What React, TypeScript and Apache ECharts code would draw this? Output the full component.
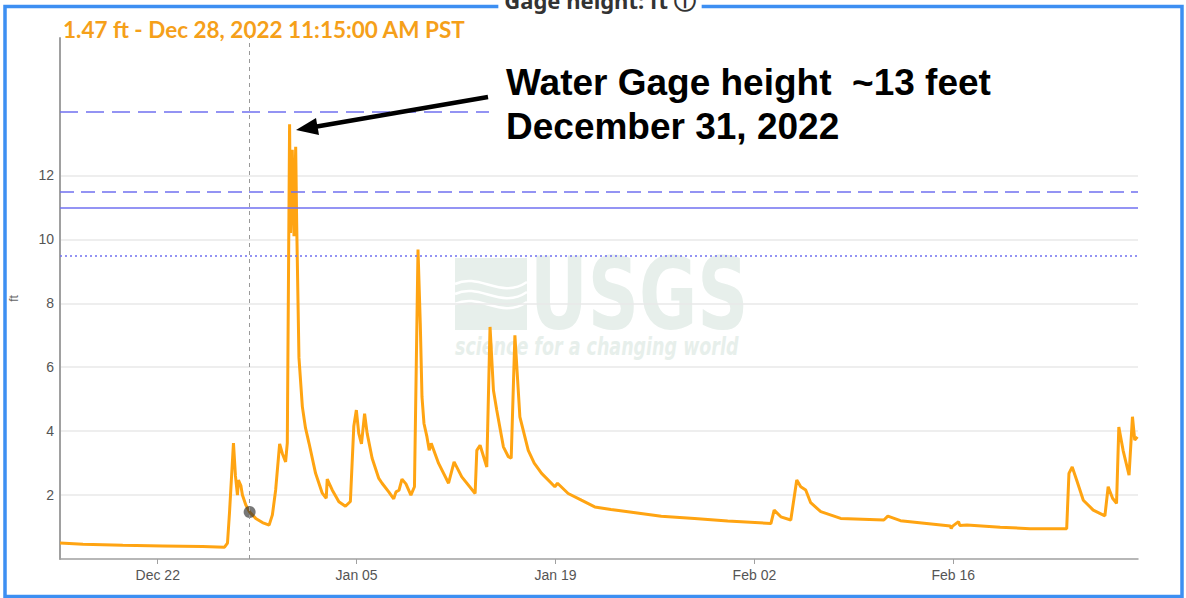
import React, { useEffect, useRef } from 'react';
import * as echarts from 'echarts';

// ---- data ----
const START = Date.UTC(2022, 11, 15); // Dec 15, 2022
const DAY = 86400000;

// days since Dec 15, 2022 00:00
const dayOffsets = [
  0.12, 1.74, 4.54, 7.35, 10.16, 11.70, 11.91, 12.05, 12.33, 12.47, 12.61, 12.68, 12.85, 12.96,
  13.20, 13.47, 13.90, 14.37, 14.84, 15.07, 15.30, 15.58, 15.77, 16.00, 16.12, 16.28, 16.35,
  16.47, 16.59, 16.71, 16.78, 16.94, 17.18, 17.40, 17.65, 18.11, 18.58, 18.86, 18.93, 19.28, 19.75,
  20.21, 20.56, 20.80, 20.98, 21.15, 21.34, 21.56, 21.74, 22.09, 22.56, 22.79, 23.26, 23.61,
  23.77, 23.98, 24.19, 24.47, 24.82, 25.07, 25.32, 25.48, 25.60, 25.74, 25.95, 26.11, 26.25,
  26.77, 27.47, 27.86, 28.40, 29.34, 29.46, 29.69, 30.16, 30.39, 30.63, 30.86, 31.33, 31.68,
  31.88, 32.14, 32.49, 33.08, 33.50, 34.02, 34.95, 35.14, 35.89, 36.82, 37.76, 38.90, 40.10, 42.44, 44.78,
  47.12, 50.16, 50.39, 50.86, 51.56, 51.98, 52.26, 52.61, 52.96, 53.67, 55.07, 58.11, 58.39,
  59.28, 61.62, 62.79, 62.85, 62.95, 63.37, 63.45, 63.96, 66.30, 68.40, 70.98, 71.14, 71.37,
  71.68, 72.15, 72.85, 73.67, 73.90, 74.21, 74.49, 74.65, 74.95, 75.37, 75.61, 75.77, 75.96,
];
// gage height, ft
const gageFt = [
  0.50, 0.46, 0.43, 0.41, 0.39, 0.37, 0.50, 1.44, 3.63, 2.60, 2.00, 2.47, 2.30, 2.00,
  1.69, 1.47, 1.27, 1.14, 1.06, 1.38, 2.16, 3.60, 3.30, 3.04, 3.63, 13.6, 10.2,
  12.8, 10.1, 12.9, 10.5, 6.30, 4.76, 4.10, 3.62, 2.68, 2.06, 1.90, 2.50, 2.16, 1.79,
  1.65, 1.80, 4.15, 4.66, 3.93, 3.60, 4.55, 3.93, 3.15, 2.52, 2.37, 2.10, 1.88,
  2.10, 2.15, 2.50, 2.35, 2.00, 2.26, 9.68, 7.37, 5.07, 4.24, 3.82, 3.40, 3.62,
  2.99, 2.37, 3.04, 2.57, 2.05, 3.40, 3.56, 2.88, 7.26, 5.28, 4.66, 3.51, 3.20,
  3.15, 7.00, 4.45, 3.40, 3.00, 2.68, 2.26, 2.37, 2.05, 1.84, 1.63, 1.55, 1.48, 1.34, 1.27,
  1.19, 1.11, 1.53, 1.32, 1.22, 2.47, 2.26, 2.16, 1.76, 1.48, 1.27, 1.22, 1.34,
  1.20, 1.09, 1.03, 0.95, 1.03, 1.17, 1.05, 1.06, 0.99, 0.95, 0.95, 2.68, 2.88,
  2.47, 1.84, 1.53, 1.35, 2.26, 1.90, 1.74, 4.13, 3.40, 2.62, 4.45, 3.72, 3.82,
];

const xTickDays = [7, 21, 35, 49, 63];
const xTickLabels = ['Dec 22', 'Jan 05', 'Jan 19', 'Feb 02', 'Feb 16'];
const yTickValues = [2, 4, 6, 8, 10, 12];
const xRangeDays = [0.12, 76];
const yRange = [0, 16.3];

const thresholdFt = [14, 11.5, 11, 9.5];

const hoverDay = 13 + 11.25 / 24; // Dec 28 11:15
const hoverFt = 1.47;
const hoverText = '1.47 ft - Dec 28, 2022 11:15:00 AM PST';
const titleText = 'Gage height: ft ⓘ';
const yAxisName = 'ft';
const noteLines = ['Water Gage height \u00a0~13 feet', 'December 31, 2022'];

export default function App() {
  const ref = useRef<HTMLDivElement>(null);

  useEffect(() => {
    document.body.style.margin = '0';
    const chart = echarts.init(ref.current!, undefined, { renderer: 'svg' });
    const seriesData = dayOffsets.map((d, i) => [START + d * DAY, gageFt[i]]);
    const tickTimes = xTickDays.map((d) => START + d * DAY);
    const thresholdStyles: any[] = [[18, 8], [14, 7], 'solid', [2, 3]];
    const blue = '#7070f0';
    const wm = '#e7efeb';

    chart.setOption({
      animation: false,
      backgroundColor: '#ffffff',
      grid: { left: 57, right: 48, top: 38, bottom: 39 },
      xAxis: {
        type: 'value',
        min: START + xRangeDays[0] * DAY,
        max: START + xRangeDays[1] * DAY,
        axisLine: { show: true, lineStyle: { color: '#a0a0a0', width: 1.5 } },
        axisTick: { show: true, length: 5, customValues: tickTimes, lineStyle: { color: '#a0a0a0' } },
        axisLabel: {
          customValues: tickTimes,
          margin: 9,
          fontSize: 14,
          color: '#555',
          fontFamily: 'Liberation Sans, Arial, sans-serif',
          formatter: (v: number) => {
            const i = tickTimes.findIndex((t) => Math.abs(t - v) < 1000);
            return i >= 0 ? xTickLabels[i] : '';
          },
        },
        splitLine: { show: false },
      },
      yAxis: {
        type: 'value',
        min: yRange[0],
        max: yRange[1],
        name: yAxisName,
        nameLocation: 'middle',
        nameGap: 40,
        nameRotate: 90,
        nameTextStyle: { fontSize: 12, color: '#666', fontFamily: 'Liberation Sans, Arial, sans-serif' },
        axisLine: { show: true, lineStyle: { color: '#a0a0a0', width: 2 } },
        axisTick: { show: false, customValues: yTickValues },
        axisLabel: {
          customValues: yTickValues,
          margin: 6,
          fontSize: 14,
          color: '#555',
          fontFamily: 'Liberation Sans, Arial, sans-serif',
        },
        splitLine: { show: true, lineStyle: { color: '#e8e8e8', width: 1.5 } },
      },
      series: [
        {
          type: 'line',
          data: seriesData,
          showSymbol: false,
          symbol: 'none',
          lineStyle: { color: '#ffa412', width: 3 },
          z: 3,
          markLine: {
            silent: true,
            symbol: ['none', 'none'],
            label: { show: false },
            data: thresholdFt.map((v, i) => ({
              yAxis: v,
              lineStyle: { color: blue, width: 1.5, type: thresholdStyles[i] },
            })),
          },
        },
        {
          type: 'scatter',
          data: [[START + hoverDay * DAY, hoverFt]],
          symbolSize: 12,
          itemStyle: { color: 'rgba(55,55,55,0.85)' },
          z: 4,
          markLine: {
            silent: true,
            symbol: ['none', 'none'],
            label: { show: false },
            lineStyle: { color: '#999', width: 1, type: [4, 4] },
            data: [{ xAxis: START + hoverDay * DAY }],
          },
        },
      ],
      graphic: [
        // watermark
        { type: 'rect', z: -1, shape: { x: 455, y: 258, width: 72, height: 72 }, style: { fill: wm } },
        { type: 'bezierCurve', z: -1, shape: { x1: 455, y1: 284, cpx1: 480, cpy1: 272, cpx2: 500, cpy2: 300, x2: 527, y2: 282 }, style: { stroke: '#fff', lineWidth: 2.5, fill: 'none' } },
        { type: 'bezierCurve', z: -1, shape: { x1: 455, y1: 294, cpx1: 480, cpy1: 282, cpx2: 500, cpy2: 310, x2: 527, y2: 292 }, style: { stroke: '#fff', lineWidth: 2.5, fill: 'none' } },
        { type: 'bezierCurve', z: -1, shape: { x1: 455, y1: 304, cpx1: 480, cpy1: 292, cpx2: 500, cpy2: 320, x2: 527, y2: 302 }, style: { stroke: '#fff', lineWidth: 2.5, fill: 'none' } },
        { type: 'text', z: -1, x: 530, y: 294, scaleX: 0.79, style: { text: 'USGS', font: "bold 100px 'Liberation Sans Narrow', 'DejaVu Sans Condensed', sans-serif", fill: wm, verticalAlign: 'middle' } },
        { type: 'text', z: -1, x: 455, y: 347, scaleX: 0.81, style: { text: 'science for a changing world', font: "italic bold 24px 'Liberation Sans Narrow', 'DejaVu Sans Condensed', sans-serif", fill: wm, verticalAlign: 'middle' } },
        // frame
        { type: 'rect', z: 20, shape: { x: 5, y: 6.5, width: 1177, height: 590 }, style: { fill: 'none', stroke: '#3d8ff2', lineWidth: 3.5 } },
        // cut-off title
        { type: 'text', z: 21, x: 600, y: 11, style: { text: titleText, font: "bold 22px 'Noto Sans', 'DejaVu Sans', sans-serif", fill: '#333', align: 'center', verticalAlign: 'bottom', backgroundColor: '#fff', padding: [0, 6, 0, 6] } },
        // hover readout
        { type: 'text', z: 21, x: 63, y: 29, style: { text: hoverText, font: "bold 22.5px Lato, 'Noto Sans', sans-serif", fill: '#f5a01a', verticalAlign: 'middle' } },
        // annotation box + text
        { type: 'rect', z: 9, shape: { x: 489, y: 58, width: 655, height: 92 }, style: { fill: '#fff' } },
        { type: 'text', z: 10, x: 506, y: 82, style: { text: noteLines[0], font: "bold 37px 'Liberation Sans', Arial, sans-serif", fill: '#000', verticalAlign: 'middle' } },
        { type: 'text', z: 10, x: 506, y: 126, style: { text: noteLines[1], font: "bold 37px 'Liberation Sans', Arial, sans-serif", fill: '#000', verticalAlign: 'middle' } },
        // arrow
        { type: 'line', z: 10, shape: { x1: 488, y1: 97, x2: 314, y2: 127 }, style: { stroke: '#000', lineWidth: 4.5 } },
        { type: 'polygon', z: 10, shape: { points: [[296, 130], [319, 135], [316, 118]] }, style: { fill: '#000' } },
      ],
    });
    return () => chart.dispose();
  }, []);

  return <div ref={ref} style={{ width: 1186, height: 598 }} />;
}
